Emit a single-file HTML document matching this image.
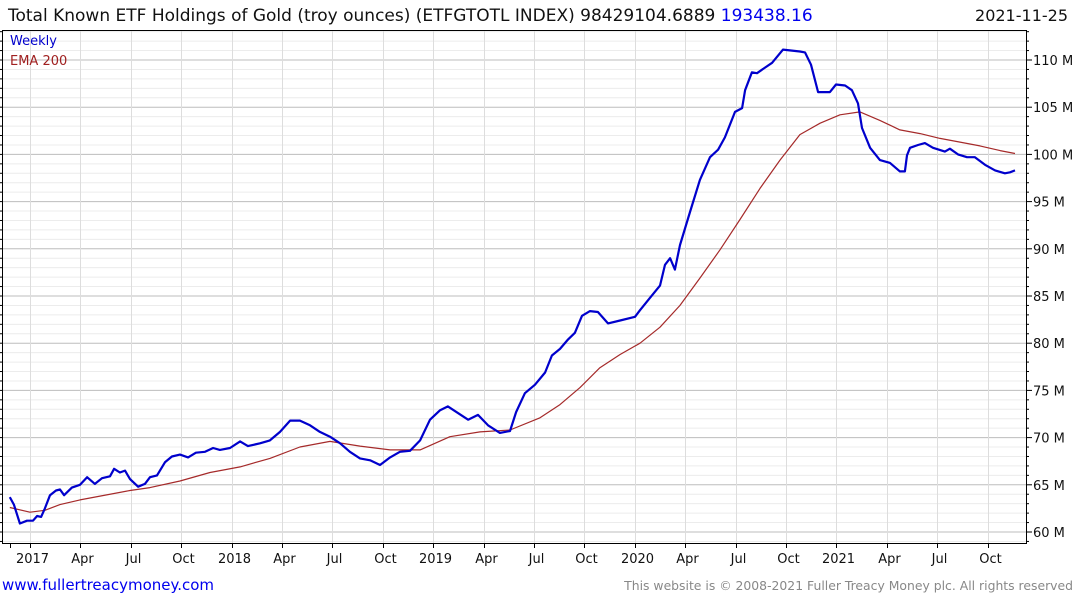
<!DOCTYPE html>
<html><head><meta charset="utf-8">
<style>
body{margin:0;background:#fff;font-family:"Liberation Sans","DejaVu Sans",sans-serif;}
svg{display:block}
</style></head>
<body>
<svg id="chart" width="1075" height="600" xmlns="http://www.w3.org/2000/svg" font-family="DejaVu Sans, Liberation Sans, sans-serif">
<text x="8" y="21" font-size="17" fill="#111">Total Known ETF Holdings of Gold (troy ounces) (ETFGTOTL INDEX) 98429104.6889 <tspan fill="#0000ee">193438.16</tspan></text>
<text x="1068" y="21" font-size="16" fill="#111" text-anchor="end">2021-11-25</text>
<g id="grid"></g>
<g id="series"></g>
<rect x="2.5" y="30.5" width="1024" height="513" fill="none" stroke="#000" stroke-width="1"/>
<g id="axes"></g>
<text x="10" y="45" font-size="13" fill="#0000cc">Weekly</text>
<text x="10" y="65" font-size="13" fill="#a02020">EMA 200</text>
<text x="2" y="590" font-size="15" fill="#0000ee">www.fullertreacymoney.com</text>
<text x="1073" y="590" font-size="12.4" fill="#888" text-anchor="end">This website is © 2008-2021 Fuller Treacy Money plc. All rights reserved</text>
</svg>
<script>
const weeklyDates=[2016.90,2016.92,2016.95,2016.985,2017.015,2017.035,2017.055,2017.074,2017.099,2017.129,2017.149,2017.169,2017.208,2017.248,2017.283,2017.322,2017.357,2017.397,2017.417,2017.446,2017.471,2017.496,2017.536,2017.570,2017.595,2017.630,2017.670,2017.704,2017.744,2017.784,2017.823,2017.868,2017.908,2017.942,2017.992,2018.042,2018.081,2018.141,2018.190,2018.240,2018.290,2018.339,2018.389,2018.438,2018.488,2018.538,2018.587,2018.637,2018.687,2018.736,2018.786,2018.835,2018.885,2018.935,2018.984,2019.034,2019.073,2019.123,2019.173,2019.222,2019.272,2019.331,2019.381,2019.411,2019.455,2019.505,2019.555,2019.589,2019.629,2019.669,2019.703,2019.738,2019.778,2019.817,2019.867,2019.927,2020.001,2020.026,2020.075,2020.125,2020.150,2020.175,2020.199,2020.224,2020.274,2020.323,2020.373,2020.413,2020.447,2020.497,2020.532,2020.547,2020.581,2020.606,2020.646,2020.681,2020.735,2020.819,2020.844,2020.874,2020.909,2020.968,2020.998,2021.043,2021.077,2021.107,2021.127,2021.167,2021.216,2021.266,2021.315,2021.340,2021.350,2021.365,2021.405,2021.439,2021.479,2021.538,2021.563,2021.603,2021.648,2021.687,2021.737,2021.787,2021.836,2021.861,2021.886];
const weeklyValues=[63.7,62.9,60.9,61.2,61.2,61.7,61.6,62.5,63.9,64.4,64.5,63.9,64.7,65.0,65.8,65.1,65.7,65.9,66.7,66.3,66.5,65.6,64.8,65.1,65.8,66.0,67.4,68.0,68.2,67.9,68.4,68.5,68.9,68.7,68.9,69.6,69.1,69.4,69.7,70.6,71.8,71.8,71.3,70.6,70.1,69.4,68.5,67.8,67.6,67.1,67.9,68.5,68.6,69.7,71.9,72.9,73.3,72.6,71.9,72.4,71.3,70.5,70.7,72.7,74.7,75.6,76.9,78.7,79.4,80.4,81.1,82.9,83.4,83.3,82.1,82.4,82.8,83.5,84.8,86.1,88.3,89.0,87.8,90.4,93.9,97.3,99.7,100.5,101.8,104.5,104.9,106.8,108.7,108.6,109.2,109.7,111.1,110.9,110.8,109.5,106.6,106.6,107.4,107.3,106.8,105.4,102.8,100.7,99.4,99.1,98.2,98.2,99.9,100.7,101.0,101.2,100.7,100.3,100.6,100.0,99.7,99.7,98.9,98.3,98.0,98.1,98.3];
const emaDates=[2016.90,2017.0,2017.074,2017.149,2017.248,2017.347,2017.496,2017.595,2017.744,2017.893,2018.042,2018.190,2018.339,2018.488,2018.637,2018.786,2018.935,2019.083,2019.232,2019.381,2019.530,2019.629,2019.728,2019.827,2019.927,2020.026,2020.125,2020.224,2020.323,2020.423,2020.522,2020.621,2020.720,2020.819,2020.919,2021.018,2021.117,2021.216,2021.315,2021.415,2021.514,2021.613,2021.712,2021.812,2021.886];
const emaValues=[62.6,62.1,62.3,62.9,63.4,63.8,64.4,64.7,65.4,66.3,66.9,67.8,69.0,69.6,69.1,68.7,68.7,70.1,70.6,70.8,72.1,73.5,75.3,77.4,78.8,80.0,81.7,84.0,86.9,89.9,93.1,96.4,99.4,102.1,103.3,104.2,104.5,103.6,102.6,102.2,101.7,101.3,100.9,100.4,100.1];
const yTicks=[60,65,70,75,80,85,90,95,100,105,110];
const xTickLabels=["2017","Apr","Jul","Oct","2018","Apr","Jul","Oct","2019","Apr","Jul","Oct","2020","Apr","Jul","Oct","2021","Apr","Jul","Oct"];
const xTickDates=[2017,2017.25,2017.5,2017.75,2018,2018.25,2018.5,2018.75,2019,2019.25,2019.5,2019.75,2020,2020.25,2020.5,2020.75,2021,2021.25,2021.5,2021.75];

const NS="http://www.w3.org/2000/svg";
const X0=30,PXY=201.6,L=3,R=1026,T=31,B=543;
function xs(t){return X0+(t-2017)*PXY;}
function ys(v){return 60+(110-v)*9.44;}
function mk(tag,attrs,parent){const e=document.createElementNS(NS,tag);for(const k in attrs)e.setAttribute(k,attrs[k]);parent.appendChild(e);return e;}
const grid=document.getElementById('grid'),axes=document.getElementById('axes'),series=document.getElementById('series');
for(let v=57;v<=113;v++){
  const y=ys(v);if(y<T||y>B)continue;
  const major=v%5===0;
  const g=mk('line',{x1:L,x2:R,y1:y,y2:y,stroke:major?'#bdbdbd':'#ececec','stroke-width':1},grid);
  
  
  const tk=mk('line',{x1:R,x2:R+(major?6:3),y1:y,y2:y,stroke:'#000'},axes);
  
  
  const tl=mk('line',{x1:L-3,x2:L,y1:y,y2:y,stroke:'#000'},axes);
  
  
}
yTicks.forEach(v=>{
  const t=mk('text',{x:R+7,y:ys(v)+5,'font-size':13,fill:'#111'},axes);
  t.textContent=v+' M';
  
  
});
xTickDates.forEach((d,i)=>{
  const x=Math.round(xs(d))+0.5;
  const g=mk('line',{x1:x,x2:x,y1:T,y2:B,stroke:'#dddddd','stroke-width':1},grid);
  
  
  const tk=mk('line',{x1:x,x2:x,y1:B,y2:B+5,stroke:'#000'},axes);
  
  
  const t=mk('text',{x:x+2,y:563,'font-size':13,fill:'#111','text-anchor':'middle'},axes);
  t.textContent=xTickLabels[i];
  
  
});
const t0=mk('line',{x1:10.5,x2:10.5,y1:B,y2:B+5,stroke:'#000'},axes);


function path(ds,vs,color,w,name){
  const d=ds.map((t,i)=>(i?'L':'M')+xs(t).toFixed(1)+' '+ys(vs[i]).toFixed(1)).join(' ');
  const p=mk('path',{d:d,fill:'none',stroke:color,'stroke-width':w,'stroke-linejoin':'round'},series);
  
  
}
path(emaDates,emaValues,'#a52a2a',1.2,'ema-200-line');
path(weeklyDates,weeklyValues,'#0000cc',2.2,'weekly-line');
</script>
</body></html>
